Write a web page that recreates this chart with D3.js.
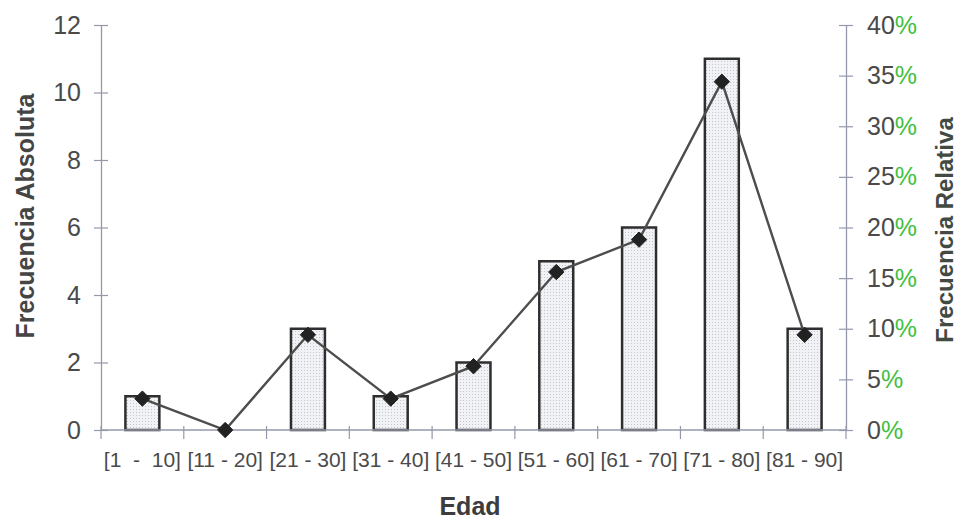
<!DOCTYPE html>
<html>
<head>
<meta charset="utf-8">
<script src="https://cdn.jsdelivr.net/npm/d3@7"></script>
<style>
  html, body { margin: 0; padding: 0; background: #fff; }
  svg { display: block; font-family: "Liberation Sans", Arial, sans-serif; }
</style>
</head>
<body>
<svg id="chart" width="961" height="519"></svg>
<script>
// Age groups and their absolute / relative frequencies
const categories = ["[1  -  10]", "[11 - 20]", "[21 - 30]", "[31 - 40]", "[41 - 50]",
                    "[51 - 60]", "[61 - 70]", "[71 - 80]", "[81 - 90]"];
const absoluteFreq = [1, 0, 3, 1, 2, 5, 6, 11, 3];
const relativeFreq = [0.031, 0, 0.094, 0.031, 0.063, 0.156, 0.188, 0.344, 0.094];
const leftTicks = [0, 2, 4, 6, 8, 10, 12];
const rightTicks = [0, 0.05, 0.10, 0.15, 0.20, 0.25, 0.30, 0.35, 0.40];

const svg = d3.select("#chart");
const plotLeft = 101, plotRight = 846, plotTop = 25, plotBottom = 430;

const x = d3.scaleBand().domain(categories).range([plotLeft, plotRight]).paddingInner(0.59).paddingOuter(0.295);
const xTicks = d3.scaleBand().domain(categories).range([plotLeft, plotRight]);
const yL = d3.scaleLinear().domain([0, 12]).range([plotBottom, plotTop]);
const yR = d3.scaleLinear().domain([0, 0.40]).range([plotBottom, plotTop]);

const axisColor = "#9598aa";
const textColor = "#4a4a4a";

// stippled bar fill
const defs = svg.append("defs");
const pat = defs.append("pattern").attr("id", "dots").attr("patternUnits", "userSpaceOnUse")
  .attr("width", 3).attr("height", 3);
pat.append("rect").attr("width", 3).attr("height", 3).attr("fill", "#f1f2f5");
pat.append("rect").attr("x", 1).attr("y", 1).attr("width", 1).attr("height", 1).attr("fill", "#c3c6cc");

// bars
svg.append("g").selectAll("rect").data(absoluteFreq).join("rect")
  .attr("x", (d, i) => x(categories[i]))
  .attr("y", d => yL(d))
  .attr("width", x.bandwidth())
  .attr("height", d => yL(0) - yL(d))
  .attr("fill", "url(#dots)")
  .attr("stroke", d => d > 0 ? "#2e2e2e" : "none")
  .attr("stroke-width", 2.5);

// axes
function styleAxis(g) {
  g.select(".domain").attr("stroke", axisColor).attr("stroke-width", 1.3);
  g.selectAll(".tick line").attr("stroke", axisColor).attr("stroke-width", 1.2);
  g.selectAll(".tick text").attr("fill", textColor);
}

const gL = svg.append("g").attr("transform", `translate(${plotLeft},0)`)
  .call(d3.axisLeft(yL).tickValues(leftTicks).tickSizeInner(7).tickSizeOuter(0).tickPadding(13));
gL.selectAll(".tick line").attr("x2", 7).attr("x1", -7);
gL.selectAll(".tick text").attr("font-size", 25);
styleAxis(gL);

const gR = svg.append("g").attr("transform", `translate(${plotRight},0)`)
  .call(d3.axisRight(yR).tickValues(rightTicks).tickSizeInner(7).tickSizeOuter(0).tickPadding(14)
    .tickFormat(d => Math.round(d * 100)));
gR.selectAll(".tick line").attr("x1", -7).attr("x2", 7);
gR.selectAll(".tick text").attr("font-size", 25)
  .append("tspan").attr("fill", "#3fbf3f").text("%");
styleAxis(gR);

// x axis line with ticks at category boundaries
const gX = svg.append("g");
gX.append("line").attr("x1", plotLeft).attr("x2", plotRight).attr("y1", plotBottom).attr("y2", plotBottom)
  .attr("stroke", axisColor).attr("stroke-width", 1.3);
gX.selectAll("line.tk").data(categories.concat(["end"])).join("line").attr("class", "tk")
  .attr("x1", (d, i) => i < categories.length ? xTicks(d) : plotRight)
  .attr("x2", (d, i) => i < categories.length ? xTicks(d) : plotRight)
  .attr("y1", plotBottom - 4).attr("y2", plotBottom + 9)
  .attr("stroke", axisColor).attr("stroke-width", 1.2);
gX.selectAll("text").data(categories).join("text")
  .attr("x", d => xTicks(d) + xTicks.bandwidth() / 2)
  .attr("y", 467)
  .attr("text-anchor", "middle")
  .attr("font-size", 21)
  .attr("fill", textColor)
  .style("white-space", "pre")
  .text(d => d);

// relative frequency line with diamond markers
const cx = (d, i) => x(categories[i]) + x.bandwidth() / 2;
const line = d3.line().x((d, i) => cx(d, i)).y(d => yR(d));
svg.append("path").datum(relativeFreq).attr("d", line)
  .attr("fill", "none").attr("stroke", "#4d4d4d").attr("stroke-width", 2.4);
svg.append("g").selectAll("path").data(relativeFreq).join("path")
  .attr("transform", (d, i) => `translate(${cx(d, i)},${yR(d)})`)
  .attr("d", d3.symbol(d3.symbolDiamond2, 150))
  .attr("fill", "#222").attr("stroke", "#222").attr("stroke-width", 1);

// axis titles
svg.append("text").attr("transform", "translate(34,216) rotate(-90)")
  .attr("text-anchor", "middle").attr("font-size", 25).attr("font-weight", "bold")
  .attr("fill", "#454545").text("Frecuencia Absoluta");
svg.append("text").attr("transform", "translate(953,230) rotate(-90)")
  .attr("text-anchor", "middle").attr("font-size", 24).attr("font-weight", "bold")
  .attr("fill", "#424a42").text("Frecuencia Relativa");
svg.append("text").attr("x", 470).attr("y", 515)
  .attr("text-anchor", "middle").attr("font-size", 25).attr("font-weight", "bold")
  .attr("fill", "#3c3c3c").text("Edad");
</script>
</body>
</html>
